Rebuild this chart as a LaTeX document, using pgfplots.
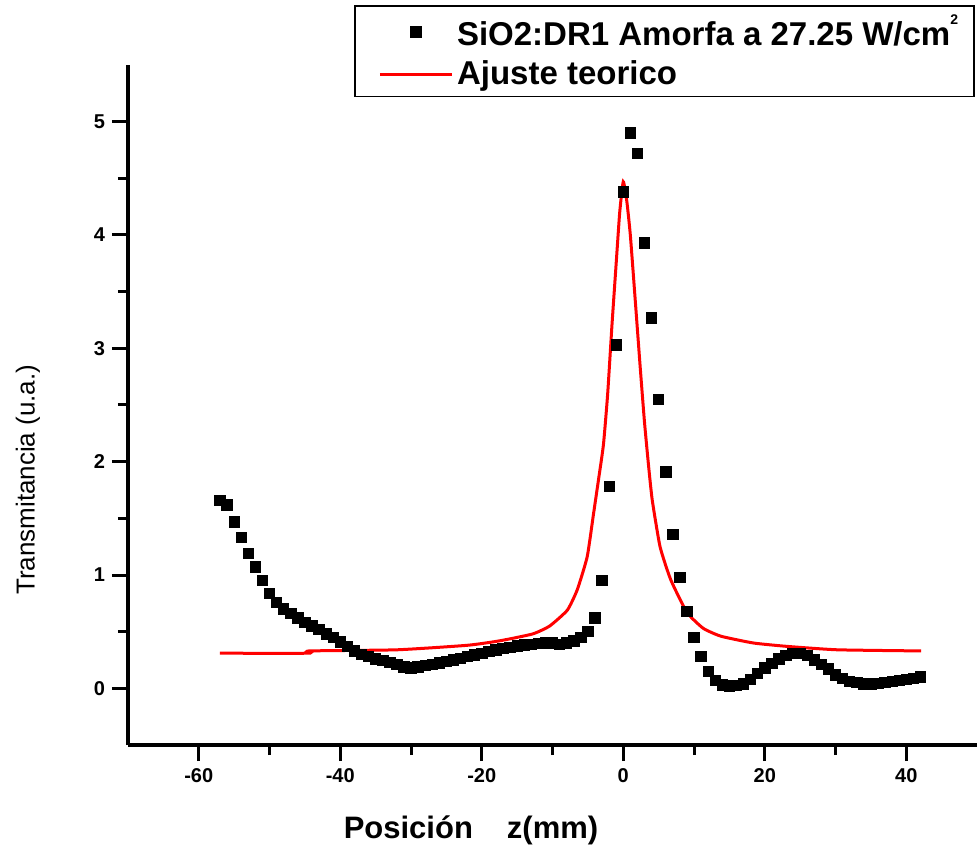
\documentclass[border=0pt]{standalone}
\usepackage{fontspec}
\setmainfont{Liberation Sans}
\usepackage{pgfplots}
\pgfplotsset{compat=1.18}
\begin{document}
\begin{tikzpicture}
\begin{axis}[
  scale only axis,
  width=424.5pt, height=340pt,
  xmin=-70, xmax=50, ymin=-0.5, ymax=5.5,
  axis x line=bottom, axis y line=left,
  axis line style={-, line width=1.8pt},
  tick align=outside,
  xtick={-60,-40,-20,0,20,40}, ytick={0,1,2,3,4,5},
  minor x tick num=1, minor y tick num=1,
  major tick length=8pt, minor tick length=5pt,
  every tick/.style={black, line width=1.5pt},
  /pgf/number format/assume math mode=true,
  ticklabel style={font=\bfseries\fontsize{10}{12}\selectfont},
  xlabel={Posición\hspace{17pt}z(mm)},
  ylabel={Transmitancia (u.a.)},
  xlabel style={at={(axis description cs:0.404,-0.125)}, anchor=center, font=\bfseries\fontsize{15.5}{18}\selectfont},
  ylabel style={at={(axis description cs:-0.1178,0.39)}, anchor=center, font=\fontsize{13}{15}\selectfont},
  legend style={at={(axis description cs:0.9976,1.088)}, anchor=north east, draw=black, line width=0.8pt,
    font=\bfseries\fontsize{16.5}{18}\selectfont, inner xsep=6pt, inner ysep=2.5pt, row sep=2pt},
  legend cell align=left,
  legend image code/.code={\path (0cm,0cm); \draw[mark repeat=2,mark phase=2,#1] plot coordinates {(0.2cm,0cm) (0.83cm,0cm) (1.46cm,0cm)};},
]
\addplot[only marks, mark=square*, mark size=2.6pt, black] coordinates {
(-57,1.66) (-56,1.62) (-55,1.47) (-54,1.33) (-53,1.19) (-52,1.07) (-51,0.95) (-50,0.84)
(-49,0.76) (-48,0.70) (-47,0.66) (-46,0.62) (-45,0.58) (-44,0.55) (-43,0.52) (-42,0.48)
(-41,0.45) (-40,0.41) (-39,0.37) (-38,0.33) (-37,0.30) (-36,0.28) (-35,0.26) (-34,0.245)
(-33,0.23) (-32,0.21) (-31,0.19) (-30,0.18) (-29,0.19) (-28,0.20) (-27,0.21) (-26,0.225)
(-25,0.24) (-24,0.25) (-23,0.265) (-22,0.28) (-21,0.295) (-20,0.31) (-19,0.325) (-18,0.34)
(-17,0.35) (-16,0.36) (-15,0.375) (-14,0.385) (-13,0.39) (-12,0.395) (-11,0.40) (-10,0.40)
(-9,0.39) (-8,0.40) (-7,0.42) (-6,0.45) (-5,0.50) (-4,0.62) (-3,0.95) (-2,1.78)
(-1,3.03) (0,4.38) (1,4.90) (2,4.72) (3,3.93) (4,3.27) (5,2.55) (6,1.91)
(7,1.36) (8,0.98) (9,0.68) (10,0.45) (11,0.28) (12,0.15) (13,0.07) (14,0.03)
(15,0.02) (16,0.025) (17,0.04) (18,0.08) (19,0.13) (20,0.18) (21,0.22) (22,0.26)
(23,0.29) (24,0.31) (25,0.31) (26,0.29) (27,0.25) (28,0.21) (29,0.17) (30,0.12)
(31,0.09) (32,0.06) (33,0.05) (34,0.04) (35,0.04) (36,0.045) (37,0.05) (38,0.06)
(39,0.07) (40,0.08) (41,0.09) (42,0.10)
};
\addlegendentry{SiO2:DR1 Amorfa a 27.25 W/cm\raisebox{1.2ex}{\fontsize{7}{7}\selectfont 2}}
\addplot[red, line width=1.5pt, mark=none, smooth, tension=0.3] coordinates {
(-57,0.31) (-44.5,0.31) (-44.4,0.33) (-32,0.34) (-22,0.38) (-17.4,0.42) (-12.8,0.48)
(-10.4,0.55) (-7.9,0.69) (-6.5,0.87) (-5.1,1.16) (-4.2,1.54) (-3.5,1.84) (-2.8,2.15)
(-2.2,2.6) (-1.6,3.2) (-1.0,3.75) (-0.5,4.2) (0,4.47) (0.5,4.3) (1,4.0) (1.7,3.42)
(2.4,2.83) (3.0,2.35) (3.6,1.95) (4.1,1.66) (5.2,1.25) (6.7,0.96) (9,0.67) (11.3,0.53)
(13.8,0.46) (18.4,0.40) (23.2,0.37) (30.3,0.34) (42.1,0.33)
};
\addlegendentry{Ajuste teorico}
\end{axis}
\pgfresetboundingbox
\path (-64pt,-55.5pt) rectangle (424.5pt,372.5pt);
\end{tikzpicture}
\end{document}
